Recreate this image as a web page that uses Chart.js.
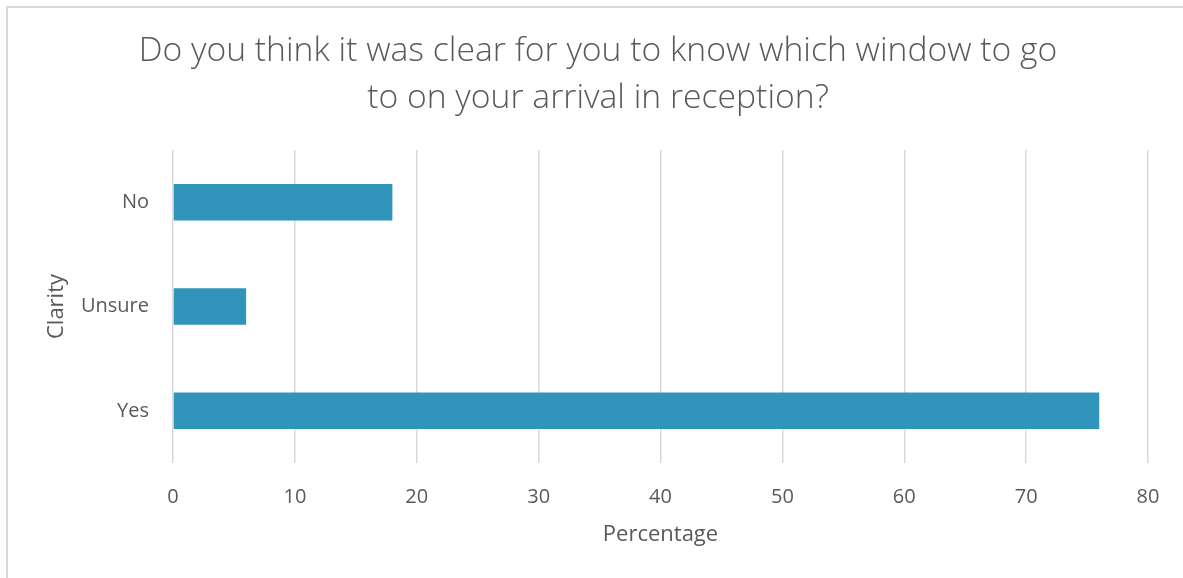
<!DOCTYPE html>
<html>
<head>
<meta charset="utf-8">
<script src="https://cdn.jsdelivr.net/npm/chart.js@4"></script>
<style>
  html, body { margin: 0; padding: 0; background: #fff; }
  #wrap { position: relative; width: 1183px; height: 578px; }
  #frame { position: absolute; left: 6px; top: 6px; right: -2px; bottom: -2px;
           border-left: 2px solid #d9d9d9; border-top: 2px solid #d9d9d9; }
  canvas { position: absolute; left: 0; top: 0; }
</style>
</head>
<body>
<div id="wrap">
  <div id="frame"></div>
  <canvas id="chart" width="1183" height="578"></canvas>
</div>
<script>
// data
const categories = ['No', 'Unsure', 'Yes'];
const percentages = [18, 6, 76];
const xTicks = [0, 10, 20, 30, 40, 50, 60, 70, 80];
const titleLines = ['Do you think it was clear for you to know which window to go',
                    'to on your arrival in reception?'];

const TEXT = '#595959';
const GRID = '#d9d9d9';
const BAR  = '#3194ba';
const FONT = "'Open Sans', 'Noto Sans', sans-serif";

// title drawn a bit right of centre, like the original
const titlePlugin = {
  id: 'offsetTitle',
  afterDraw(chart) {
    const c = chart.ctx;
    c.save();
    c.fillStyle = TEXT;
    c.font = `300 33.7px ${FONT}`;
    c.textAlign = 'center';
    c.textBaseline = 'middle';
    titleLines.forEach((line, i) => c.fillText(line, 598, 51 + i * 47));
    c.restore();
  },
};

const ctx = document.getElementById('chart').getContext('2d');
new Chart(ctx, {
  type: 'bar',
  data: {
    labels: categories,
    datasets: [{
      data: percentages,
      backgroundColor: BAR,
      borderWidth: 0,
      categoryPercentage: 1,
      barPercentage: 0.35,
    }],
  },
  plugins: [titlePlugin],
  options: {
    indexAxis: 'y',
    responsive: false,
    animation: false,
    layout: { padding: { left: 0, right: 35, top: 150, bottom: 26 } },
    plugins: {
      legend: { display: false },
      tooltip: { enabled: false },
      title: { display: false },
    },
    scales: {
      x: {
        min: 0,
        max: 80,
        afterBuildTicks: (axis) => { axis.ticks = xTicks.map((v) => ({ value: v })); },
        afterFit: (axis) => { axis.height = 578 - 463 - 26; },
        grid: { color: GRID, lineWidth: 1.5, drawTicks: false },
        border: { display: false },
        ticks: { color: TEXT, padding: 22, font: { family: FONT, size: 20 } },
        title: {
          display: true,
          text: 'Percentage',
          color: TEXT,
          padding: { top: 4 },
          font: { family: FONT, size: 22 },
        },
      },
      y: {
        afterFit: (axis) => { axis.width = 173; },
        grid: { display: false, drawTicks: false },
        border: { display: false },
        ticks: { color: TEXT, padding: 24, font: { family: FONT, size: 20 } },
        title: {
          display: true,
          text: 'Clarity',
          color: TEXT,
          padding: { bottom: 0, top: 44 },
          font: { family: FONT, size: 22 },
        },
      },
    },
  },
});
</script>
</body>
</html>
